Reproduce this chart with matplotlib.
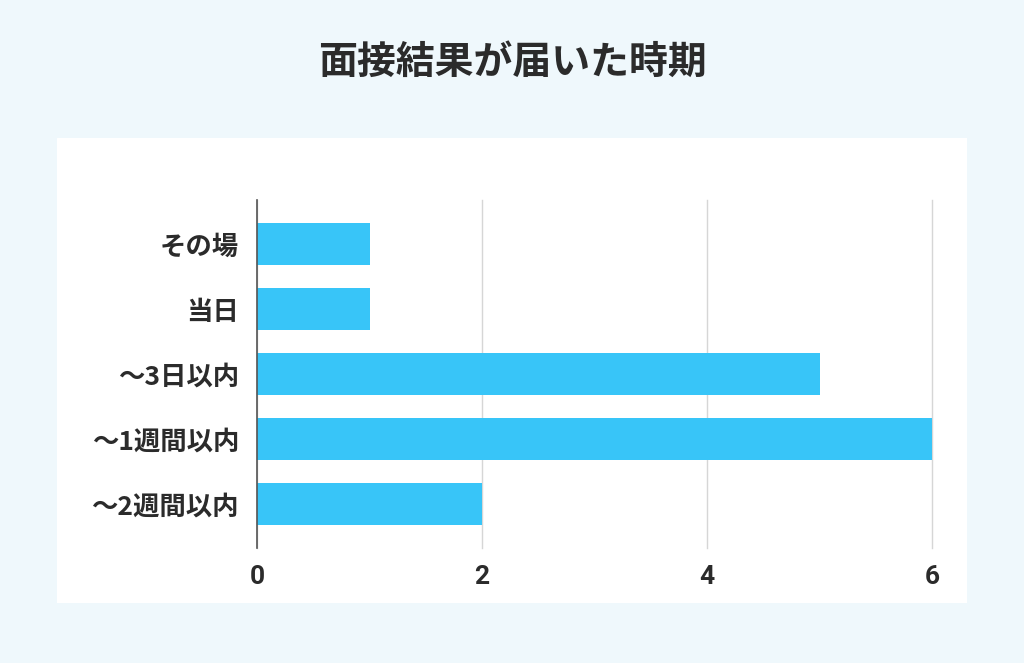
import matplotlib
matplotlib.use("Agg")
import matplotlib.pyplot as plt

plt.rcParams['font.family'] = ['Noto Sans CJK JP', 'DejaVu Sans']

title = "面接結果が届いた時期"
categories = ["その場", "当日", "～3日以内", "～1週間以内", "～2週間以内"]
counts = [1, 1, 5, 6, 2]
x_ticks = [0, 2, 4, 6]

bg = "#eff8fc"
bar_color = "#38c5f8"

fig = plt.figure(figsize=(10.24, 6.63), dpi=100)
fig.patch.set_facecolor(bg)

# white card behind the chart
card = fig.add_axes([57 / 1024, 1 - 603 / 663, 910 / 1024, 465 / 663])
card.set_axis_off()
card.add_patch(plt.Rectangle((0, 0), 1, 1, color="white", transform=card.transAxes))
card.set_zorder(-1)

fig.text(0.5, 1 - 62 / 663, title, ha="center", va="center",
         fontsize=28, fontweight="bold", color="#2b2b2b")

ax = fig.add_axes([257 / 1024, 1 - 548 / 663, 675 / 1024, 348 / 663])
ax.set_facecolor("none")

ypos = list(range(len(categories)))
ax.barh(ypos, counts, height=0.646, color=bar_color, zorder=3)

ax.set_xlim(0, 6)
ax.set_ylim(len(categories) - 1 + 0.677, -0.677)
ax.set_xticks(x_ticks)
ax.set_xticklabels([str(t) for t in x_ticks])
ax.set_yticks(ypos)
ax.set_yticklabels(categories)

ax.grid(axis="x", color="#d6d6d6", linewidth=1, zorder=0)
for gl in ax.get_xgridlines():
    gl.set_clip_on(False)
for s in ["top", "right", "bottom"]:
    ax.spines[s].set_visible(False)
ax.spines["left"].set_color("#555555")
ax.spines["left"].set_linewidth(1.2)
ax.spines["left"].set_zorder(4)

ax.tick_params(axis="both", length=0)
ax.tick_params(axis="y", pad=13, labelsize=19, labelcolor="#2b2b2b")
ax.tick_params(axis="x", pad=12, labelsize=19, labelcolor="#2b2b2b")
for lbl in ax.get_yticklabels():
    lbl.set_fontweight("bold")
for lbl in ax.get_xticklabels():
    lbl.set_fontweight("bold")
    lbl.set_family(["Roboto", "DejaVu Sans"])

fig.savefig("out.png", dpi=100, facecolor=bg)
